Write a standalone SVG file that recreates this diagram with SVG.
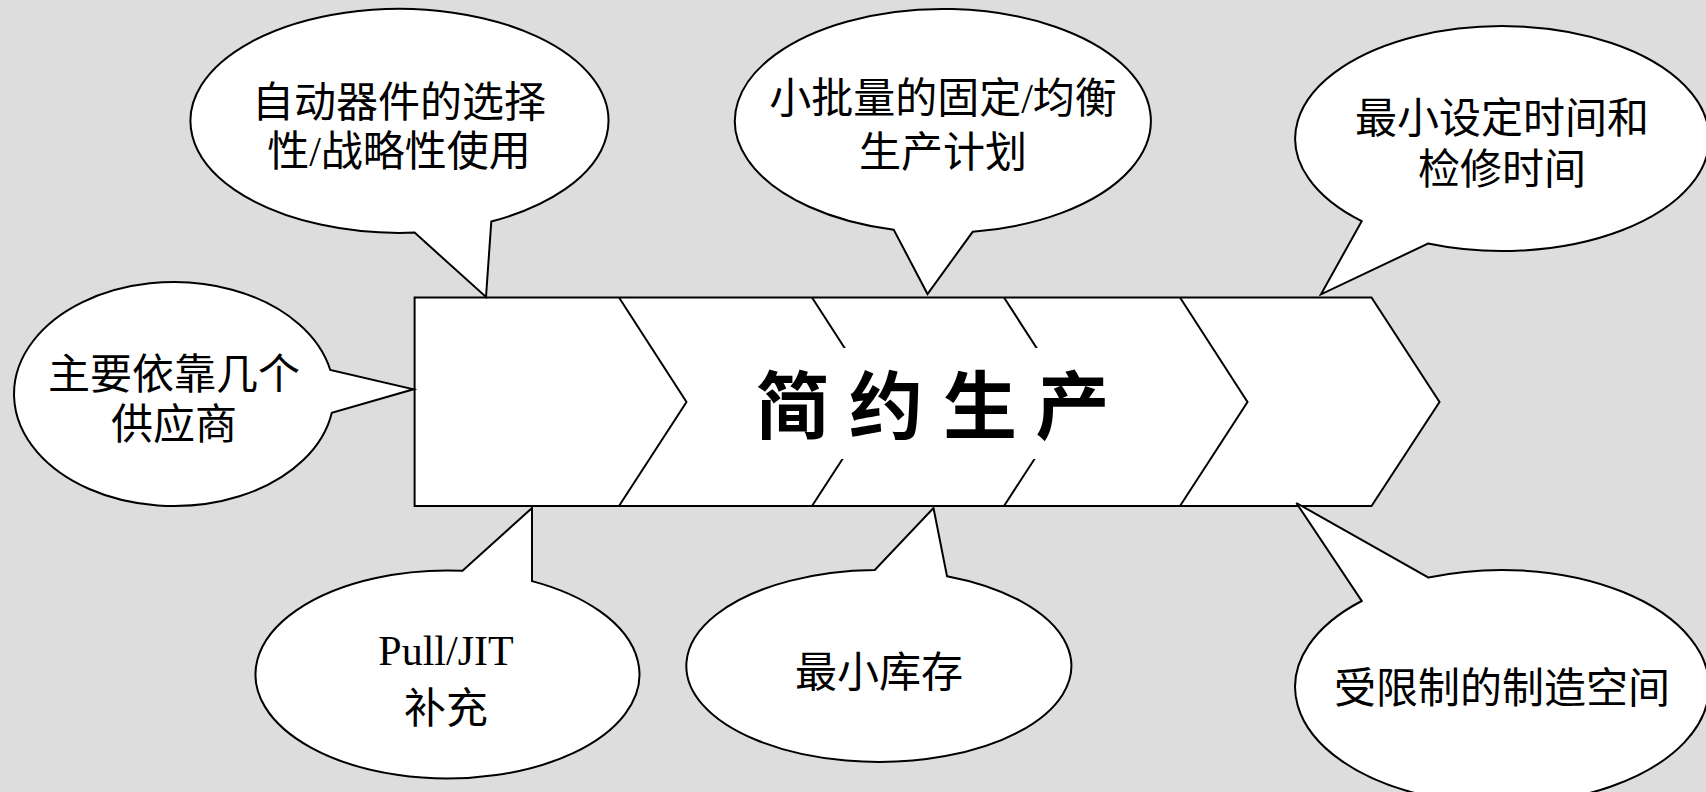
<svg xmlns="http://www.w3.org/2000/svg" width="1706" height="792" viewBox="0 0 1706 792">
<style>
.shape{fill:#fff;stroke:#000;stroke-width:2;stroke-linejoin:miter}
.line{fill:none;stroke:#000;stroke-width:2}
.t{font-family:"Liberation Serif","Noto Sans CJK SC",serif;font-size:42px;fill:#000;text-anchor:middle}
.title{font-family:"Noto Sans CJK SC",sans-serif;font-size:74px;font-weight:bold;fill:#000;text-anchor:middle}
</style>
<rect x="0" y="0" width="1706" height="792" fill="#dddddd"/>
<g id="main">
<polygon class="shape" points="414.6,297.5 1371.5,297.5 1439.5,402 1371.5,506 414.6,506"/>
<path class="line" d="M619,297.5 L686.5,402 L619,506 M812,297.5 L879.5,402 L812,506 M1004,297.5 L1071.5,402 L1004,506 M1180,297.5 L1247.5,402 L1180,506"/>
<rect x="695" y="348" width="470" height="111" fill="#fff"/>
<text class="title" x="792.5" y="433">简</text>
<text class="title" x="886" y="433">约</text>
<text class="title" x="980" y="433">生</text>
<text class="title" x="1072.5" y="433">产</text>
</g>
<g id="callout-auto">
<path class="shape" d="M414.6,232.6 A209,112 0 1 1 491.3,221.5 L486,297 Z"/>
<text class="t" x="399" y="116.5">自动器件的选择</text>
<text class="t" x="399" y="165.5">性/战略性使用</text>
</g>
<g id="callout-batch">
<path class="shape" d="M893.8,229.8 A208,112 0 1 1 972.7,231.8 L927.5,294 Z"/>
<text class="t" x="943" y="113">小批量的固定/均衡</text>
<text class="t" x="943" y="167">生产计划</text>
</g>
<g id="callout-setup">
<path class="shape" d="M1361.7,221.2 A207,112.5 0 1 1 1428,243.6 L1321,294.3 Z"/>
<text class="t" x="1502" y="133">最小设定时间和</text>
<text class="t" x="1502" y="184">检修时间</text>
</g>
<g id="callout-supplier">
<path class="shape" d="M331.8,412.7 A160,112 0 1 1 330.3,370 L413.5,389.3 Z"/>
<text class="t" x="174" y="388.5">主要依靠几个</text>
<text class="t" x="174" y="439">供应商</text>
</g>
<g id="callout-pull">
<path class="shape" d="M532,581.1 A192,104 0 1 1 462.5,570.8 L532,508 Z"/>
<text class="t" x="446" y="665">Pull/JIT</text>
<text class="t" x="446" y="723">补充</text>
</g>
<g id="callout-inventory">
<path class="shape" d="M947,576.2 A192.5,96 0 1 1 874.8,570 L933.5,508 Z"/>
<text class="t" x="879" y="687">最小库存</text>
</g>
<g id="callout-space">
<path class="shape" d="M1428.6,577.6 A207,117 0 1 1 1361.7,601 L1296.4,503 Z"/>
<text class="t" x="1502" y="703">受限制的制造空间</text>
</g>
<g id="connectors"></g>
</svg>
